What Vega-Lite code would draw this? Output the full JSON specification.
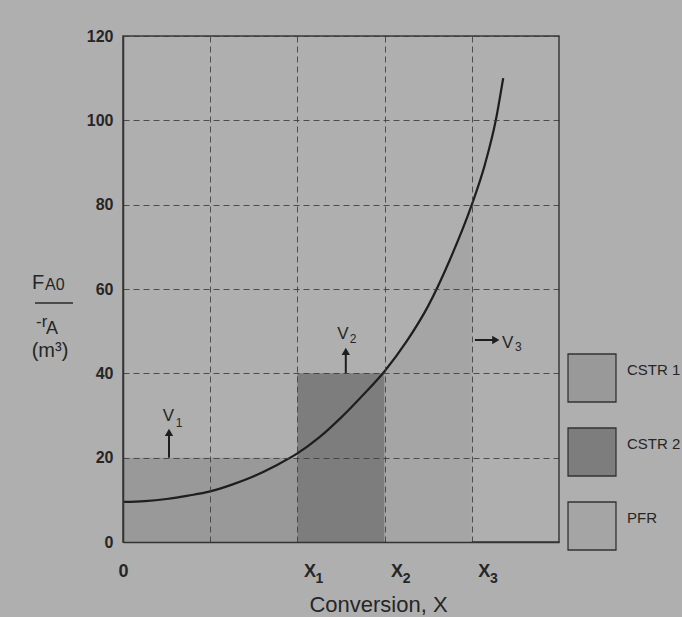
{
  "$schema": "https://vega.github.io/schema/vega-lite/v6.json",
  "width": 436,
  "height": 506,
  "autosize": {"type": "none"},
  "padding": {"left": 123, "top": 36, "right": 123, "bottom": 75},
  "background": "#afafaf",
  "config": {
    "view": {"stroke": "#3a3a3a", "strokeWidth": 1.5},
    "font": "Liberation Sans",
    "text": {"font": "Liberation Sans", "color": "#262626"}
  },
  "datasets": {
    "curve": [
      {"X": 0, "v": 9.5}, {"X": 0.05, "v": 9.7}, {"X": 0.1, "v": 10.2}, {"X": 0.15, "v": 11.0},
      {"X": 0.2, "v": 12.0}, {"X": 0.25, "v": 13.6}, {"X": 0.3, "v": 15.6}, {"X": 0.35, "v": 18.1},
      {"X": 0.4, "v": 21.0}, {"X": 0.45, "v": 24.8}, {"X": 0.5, "v": 29.5}, {"X": 0.55, "v": 34.8},
      {"X": 0.6, "v": 40.5}, {"X": 0.65, "v": 47.5}, {"X": 0.7, "v": 56.0}, {"X": 0.75, "v": 67.0},
      {"X": 0.8, "v": 80.0}, {"X": 0.83, "v": 89.5}, {"X": 0.855, "v": 100.0}, {"X": 0.872, "v": 110.0}
    ],
    "reactors": [
      {"reactor": "CSTR 1", "x0": 0, "x1": 0.4, "y0": 0, "y1": 20},
      {"reactor": "CSTR 2", "x0": 0.4, "x1": 0.6, "y0": 0, "y1": 40}
    ],
    "arrows": [
      {"name": "V1", "x": 0.1055, "y": 20, "x2": 0.1055, "y2": 26},
      {"name": "V2", "x": 0.511, "y": 40, "x2": 0.511, "y2": 45.2},
      {"name": "V3", "x": 0.807, "y": 47.9, "x2": 0.855, "y2": 47.9}
    ],
    "heads": [
      {"name": "V1", "x": 0.1055, "y": 26, "dir": "up"},
      {"name": "V2", "x": 0.511, "y": 45.2, "dir": "up"},
      {"name": "V3", "x": 0.855, "y": 47.9, "dir": "right"}
    ],
    "vmain": [
      {"t": "V", "x": 0.1044, "y": 28.7},
      {"t": "V", "x": 0.5046, "y": 48.1},
      {"t": "V", "x": 0.882, "y": 46.0}
    ],
    "vsub": [
      {"t": "1", "x": 0.1284, "y": 27.3},
      {"t": "2", "x": 0.5275, "y": 47.2},
      {"t": "3", "x": 0.907, "y": 45.3}
    ],
    "xsub": [
      {"t": "1", "x": 0.4505, "y": -9.7},
      {"t": "2", "x": 0.6505, "y": -9.7},
      {"t": "3", "x": 0.8505, "y": -9.7}
    ]
  },
  "layer": [
    {
      "data": {"name": "reactors"},
      "mark": {"type": "rect"},
      "encoding": {
        "x": {
          "field": "x0", "type": "quantitative",
          "scale": {"domain": [0, 1], "nice": false, "zero": false},
          "axis": {
            "values": [0, 0.2, 0.4, 0.6, 0.8],
            "labelExpr": "datum.value == 0 ? '0' : (datum.value == 0.4 || datum.value == 0.6 || datum.value == 0.8) ? 'X' : ''",
            "title": "Conversion, X",
            "grid": true, "gridDash": [6, 4], "gridColor": "#3c3c3c", "gridWidth": 1, "gridOpacity": 0.85,
            "ticks": false, "domainColor": "#333333", "domainWidth": 1.5,
            "labelFontSize": 18, "labelFontWeight": "bold", "labelColor": "#262626", "labelFont": "Liberation Sans",
            "labelPadding": 20, "labelBaseline": "top", "labelFlush": false, "labelOverlap": false,
            "labelOffset": {"condition": {"test": "datum.value == 0", "value": 0}, "value": 12},
            "titleFontSize": 22, "titleFontWeight": "normal", "titleColor": "#262626", "titleFont": "Liberation Sans",
            "titleX": 255, "titleY": 69, "titleBaseline": "alphabetic", "titleAlign": "center",
            "zindex": 1
          }
        },
        "x2": {"field": "x1"},
        "y": {
          "field": "y0", "type": "quantitative",
          "scale": {"domain": [0, 120], "nice": false},
          "axis": {
            "values": [0, 20, 40, 60, 80, 100, 120],
            "title": null,
            "grid": true, "gridDash": [6, 4], "gridColor": "#3c3c3c", "gridWidth": 1, "gridOpacity": 0.85,
            "ticks": false, "domainColor": "#333333", "domainWidth": 1.5,
            "labelFontSize": 16, "labelFontWeight": "bold", "labelColor": "#262626", "labelFont": "Liberation Sans",
            "labelPadding": 10, "labelFlush": false, "labelOverlap": false,
            "zindex": 1
          }
        },
        "y2": {"field": "y1"},
        "color": {
          "field": "reactor", "type": "nominal",
          "scale": {"domain": ["CSTR 1", "CSTR 2", "PFR"], "range": ["#999999", "#7d7d7d", "#a5a5a5"]},
          "legend": {
            "orient": "none", "legendX": 444, "legendY": 317, "title": null,
            "symbolType": "square", "symbolSize": 2300, "symbolStrokeColor": "#333333", "symbolStrokeWidth": 1.3,
            "symbolOpacity": 1, "rowPadding": 20, "labelOffset": 10, "labelFontSize": 15,
            "labelFont": "Liberation Sans", "labelColor": "#262626", "labelLimit": 0,
            "labelBaseline": "bottom"
          }
        }
      }
    },
    {
      "data": {"name": "curve"},
      "transform": [{"filter": "datum.X >= 0.6 && datum.X <= 0.8"}],
      "mark": {"type": "area", "interpolate": "monotone"},
      "encoding": {
        "x": {"field": "X", "type": "quantitative"},
        "y": {"field": "v", "type": "quantitative"},
        "y2": {"datum": 0},
        "color": {"datum": "PFR", "type": "nominal"}
      }
    },
    {
      "data": {"name": "curve"},
      "mark": {"type": "line", "interpolate": "monotone", "stroke": "#1e1e1e", "strokeWidth": 2.2},
      "encoding": {
        "x": {"field": "X", "type": "quantitative"},
        "y": {"field": "v", "type": "quantitative"}
      }
    },
    {
      "data": {"name": "arrows"},
      "mark": {"type": "rule", "stroke": "#1e1e1e", "strokeWidth": 2},
      "encoding": {
        "x": {"field": "x", "type": "quantitative"},
        "x2": {"field": "x2"},
        "y": {"field": "y", "type": "quantitative"},
        "y2": {"field": "y2"}
      }
    },
    {
      "data": {"name": "heads"},
      "mark": {"type": "point", "filled": true, "size": 70, "color": "#1e1e1e", "opacity": 1},
      "encoding": {
        "x": {"field": "x", "type": "quantitative"},
        "y": {"field": "y", "type": "quantitative"},
        "shape": {"field": "dir", "type": "nominal", "scale": {"domain": ["up", "right"], "range": ["triangle-up", "triangle-right"]}, "legend": null}
      }
    },
    {
      "data": {"name": "vmain"},
      "mark": {"type": "text", "fontSize": 17, "align": "center", "baseline": "alphabetic"},
      "encoding": {
        "x": {"field": "x", "type": "quantitative"},
        "y": {"field": "y", "type": "quantitative"},
        "text": {"field": "t"}
      }
    },
    {
      "data": {"name": "vsub"},
      "mark": {"type": "text", "fontSize": 12, "align": "center", "baseline": "alphabetic"},
      "encoding": {
        "x": {"field": "x", "type": "quantitative"},
        "y": {"field": "y", "type": "quantitative"},
        "text": {"field": "t"}
      }
    },
    {
      "data": {"name": "xsub"},
      "mark": {"type": "text", "fontSize": 14, "fontWeight": "bold", "align": "center", "baseline": "alphabetic"},
      "encoding": {
        "x": {"field": "x", "type": "quantitative"},
        "y": {"field": "y", "type": "quantitative"},
        "text": {"field": "t"}
      }
    },
    {
      "data": {"values": [{"t": "F", "x": -0.2087, "y": 60.0}]},
      "mark": {"type": "text", "fontSize": 20, "align": "left", "baseline": "alphabetic"},
      "encoding": {"x": {"field": "x", "type": "quantitative"}, "y": {"field": "y", "type": "quantitative"}, "text": {"field": "t"}}
    },
    {
      "data": {"values": [{"t": "A0", "x": -0.1789, "y": 59.8}]},
      "mark": {"type": "text", "fontSize": 16, "align": "left", "baseline": "alphabetic"},
      "encoding": {"x": {"field": "x", "type": "quantitative"}, "y": {"field": "y", "type": "quantitative"}, "text": {"field": "t"}}
    },
    {
      "data": {"values": [{"x": -0.2018, "x2": -0.1147, "y": 56.7}]},
      "mark": {"type": "rule", "stroke": "#2a2a2a", "strokeWidth": 1.5},
      "encoding": {"x": {"field": "x", "type": "quantitative"}, "x2": {"field": "x2"}, "y": {"field": "y", "type": "quantitative"}}
    },
    {
      "data": {"values": [{"t": "-r", "x": -0.1995, "y": 50.9}]},
      "mark": {"type": "text", "fontSize": 17, "align": "left", "baseline": "alphabetic"},
      "encoding": {"x": {"field": "x", "type": "quantitative"}, "y": {"field": "y", "type": "quantitative"}, "text": {"field": "t"}}
    },
    {
      "data": {"values": [{"t": "A", "x": -0.1765, "y": 49.3}]},
      "mark": {"type": "text", "fontSize": 18, "align": "left", "baseline": "alphabetic"},
      "encoding": {"x": {"field": "x", "type": "quantitative"}, "y": {"field": "y", "type": "quantitative"}, "text": {"field": "t"}}
    },
    {
      "data": {"values": [{"t": "(m³)", "x": -0.1674, "y": 43.9}]},
      "mark": {"type": "text", "fontSize": 20, "align": "center", "baseline": "alphabetic"},
      "encoding": {"x": {"field": "x", "type": "quantitative"}, "y": {"field": "y", "type": "quantitative"}, "text": {"field": "t"}}
    }
  ]
}
